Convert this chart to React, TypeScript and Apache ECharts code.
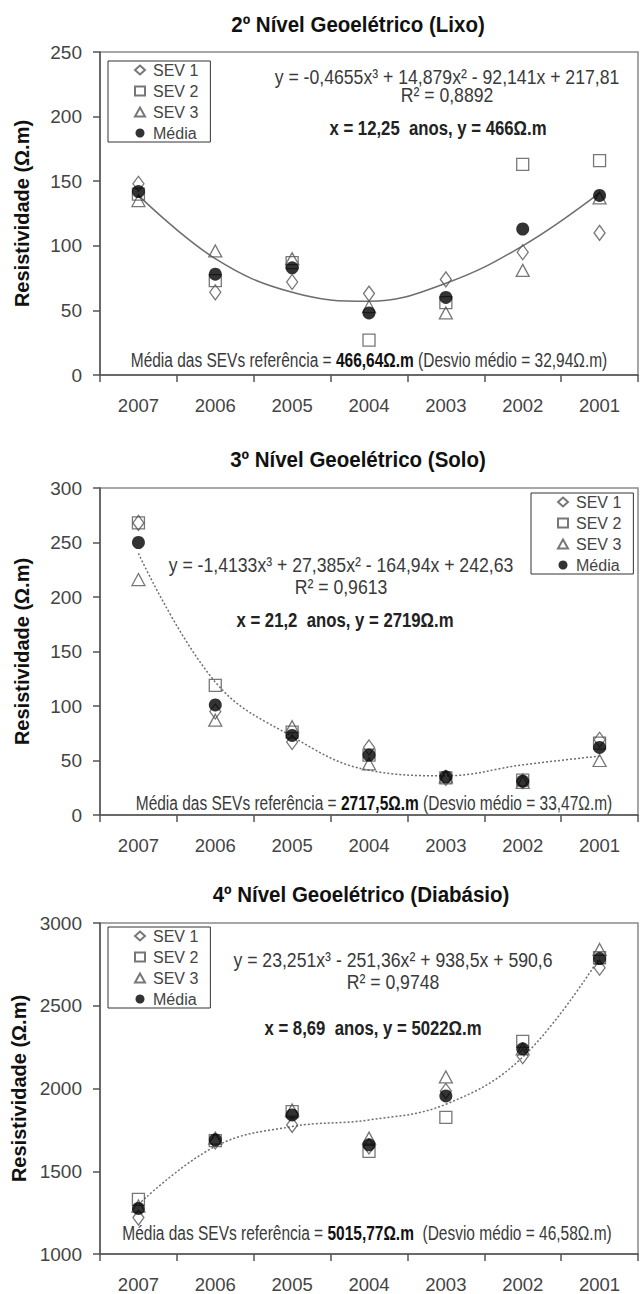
import React, { useEffect, useRef } from 'react';
import * as echarts from 'echarts';

const years = ['2007', '2006', '2005', '2004', '2003', '2002', '2001'];

const lixoSev1 = [148, 64, 72, 63, 74, 95, 110];
const lixoSev2 = [140, 73, 87, 27, 56, 163, 166];
const lixoSev3 = [135, 96, 90, 53, 48, 81, 137];
const lixoMedia = [142, 78, 83, 48, 60, 113, 139];
const lixoTrend = [139, 90, 64, 57, 71, 100, 141];

const soloSev1 = [268, 95, 67, 62, 34, 31, 69];
const soloSev2 = [268, 119, 76, 55, 34, 32, 66];
const soloSev3 = [216, 87, 81, 47, 35, 30, 50];
const soloMedia = [250, 101, 73, 55, 35, 31, 62];
const soloTrend = [240, 122, 72, 41, 36, 46, 54];

const diabSev1 = [1220, 1680, 1780, 1650, 1985, 2195, 2730];
const diabSev2 = [1330, 1685, 1860, 1620, 1826, 2285, 2790];
const diabSev3 = [1290, 1700, 1870, 1700, 2070, 2240, 2840];
const diabMedia = [1275, 1690, 1840, 1660, 1955, 2240, 2785];
const diabTrend = [1300, 1650, 1770, 1810, 1905, 2190, 2790];

const titles = ['2º Nível Geoelétrico (Lixo)', '3º Nível Geoelétrico (Solo)', '4º Nível Geoelétrico (Diabásio)'];
const equations = [
  'y = -0,4655x³ + 14,879x² - 92,141x + 217,81',
  'y = -1,4133x³ + 27,385x² - 164,94x + 242,63',
  'y = 23,251x³ - 251,36x² + 938,5x + 590,6',
];
const r2Texts = ['R² = 0,8892', 'R² = 0,9613', 'R² = 0,9748'];
const resultTexts = ['x = 12,25  anos, y = 466Ω.m', 'x = 21,2  anos, y = 2719Ω.m', 'x = 8,69  anos, y = 5022Ω.m'];
const refValues = ['466,64Ω.m', '2717,5Ω.m', '5015,77Ω.m'];
const desvios = [' (Desvio médio = 32,94Ω.m)', ' (Desvio médio = 33,47Ω.m)', '  (Desvio médio = 46,58Ω.m)'];
const legendNames = ['SEV 1', 'SEV 2', 'SEV 3', 'Média'];

const SANS = '"Liberation Sans", Arial, sans-serif';
const GRAY = '#555';
const TXT = '#3a3a3a';

const grids = [
  { left: 100, top: 52, width: 538, height: 323 },
  { left: 100, top: 488, width: 538, height: 327 },
  { left: 100, top: 923, width: 538, height: 332 },
];
const yRanges = [
  { min: 0, max: 250, interval: 50 },
  { min: 0, max: 300, interval: 50 },
  { min: 1000, max: 3000, interval: 500 },
];

function buildSeries(gi: number, s1: number[], s2: number[], s3: number[], m: number[], trend: number[], dotted: boolean) {
  const base = { type: 'scatter', xAxisIndex: gi, yAxisIndex: gi };
  const hollow = { color: 'rgba(0,0,0,0)', borderColor: GRAY, borderWidth: 1.3 };
  return [
    {
      type: 'line', xAxisIndex: gi, yAxisIndex: gi, data: trend, smooth: 0.4, smoothConstraint: false,
      symbol: 'none', z: 1,
      lineStyle: { color: '#6e6e6e', width: 1.5, type: dotted ? [2, 2] : 'solid' }, silent: true,
    },
    { ...base, name: legendNames[0], data: s1, symbol: 'diamond', symbolSize: [11, 15], itemStyle: hollow, z: 2 },
    { ...base, name: legendNames[1], data: s2, symbol: 'rect', symbolSize: 12, itemStyle: hollow, z: 2 },
    { ...base, name: legendNames[2], data: s3, symbol: 'triangle', symbolSize: [13, 12], itemStyle: hollow, z: 2 },
    { ...base, name: legendNames[3], data: m, symbol: 'circle', symbolSize: 13, itemStyle: { color: '#000' }, z: 3 },
  ];
}

const textPos = [
  { title: [358, 25], eq: [447, 77], r2: [447, 95], res: [438, 128], media: [369, 360] },
  { title: [358, 460], eq: [341, 565], r2: [341, 587], res: [345, 620], media: [374, 803] },
  { title: [361, 895], eq: [393, 960], r2: [393, 982], res: [373, 1028], media: [367, 1233] },
];
const legendPos = [
  { left: 108, top: 61 },
  { left: 531, top: 493 },
  { left: 108, top: 927 },
];

function txt(text: string, x: number, y: number, font: string, sx: number, sy: number, extra: any = {}) {
  return {
    type: 'text', x, y, scaleX: sx, scaleY: sy, silent: true,
    style: { text, font, fill: TXT, textAlign: 'center', textVerticalAlign: 'middle', ...extra },
  };
}

export default function App() {
  const ref = useRef<HTMLDivElement>(null);
  useEffect(() => {
    const chart = echarts.init(ref.current!, undefined, { renderer: 'svg' });
    const graphics: any[] = [];
    textPos.forEach((p, i) => {
      graphics.push(txt(titles[i], p.title[0], p.title[1], `bold 20.5px ${SANS}`, 1.0, 1.08, { fill: '#111' }));
      graphics.push(txt(equations[i], p.eq[0], p.eq[1], `18px ${SANS}`, 0.98, 1.12));
      graphics.push(txt(r2Texts[i], p.r2[0], p.r2[1], `18px ${SANS}`, 0.98, 1.12));
      graphics.push(txt(resultTexts[i], p.res[0], p.res[1], `bold 18px ${SANS}`, 0.93, 1.12, { fill: '#222' }));
      graphics.push({
        type: 'text', x: p.media[0], y: p.media[1], scaleX: 0.86, scaleY: 1.1, silent: true,
        style: {
          text: `{n|Média das SEVs referência = }{b|${refValues[i]}}{n|${desvios[i]}}`,
          textAlign: 'center', textVerticalAlign: 'middle',
          rich: {
            n: { font: `18px ${SANS}`, fill: TXT },
            b: { font: `bold 18px ${SANS}`, fill: '#111' },
          },
        },
      });
    });
    const option: any = {
      animation: false,
      backgroundColor: '#fff',
      grid: grids.map((g) => ({ ...g, show: true, borderColor: '#8a8a8a', borderWidth: 1.5, backgroundColor: 'transparent' })),
      xAxis: grids.map((_, i) => ({
        type: 'category', gridIndex: i, data: years, boundaryGap: true,
        axisLine: { show: true, lineStyle: { color: GRAY, width: 1.5 } },
        axisTick: { show: true, length: 7, interval: 0, lineStyle: { color: GRAY, width: 1.5 } },
        axisLabel: { interval: 0, margin: 21, fontSize: 18.5, fontFamily: SANS, color: '#444' },
        splitLine: { show: false },
      })),
      yAxis: grids.map((_, i) => ({
        type: 'value', gridIndex: i, ...yRanges[i],
        axisLine: { show: true, lineStyle: { color: GRAY, width: 1.5 } },
        axisTick: { show: true, length: 7, lineStyle: { color: GRAY, width: 1.5 } },
        axisLabel: { margin: 18, fontSize: 19, fontFamily: SANS, color: '#444', formatter: (v: number) => String(v) },
        splitLine: { show: false },
        name: 'Resistividade (Ω.m)', nameLocation: 'middle', nameGap: 68,
        nameTextStyle: { fontSize: 20, fontWeight: 'bold', fontFamily: SANS, color: '#111' },
      })),
      legend: legendPos.map((lp) => ({
        ...lp, orient: 'vertical', data: legendNames,
        backgroundColor: '#fff', borderColor: '#333', borderWidth: 1,
        padding: [1, 12, 1, 26], itemGap: 5, itemWidth: 10, itemHeight: 9,
        textStyle: { fontSize: 16, fontFamily: SANS, color: '#444', padding: [0, 0, 0, 3] },
        selectedMode: false,
      })),
      series: [
        ...buildSeries(0, lixoSev1, lixoSev2, lixoSev3, lixoMedia, lixoTrend, false),
        ...buildSeries(1, soloSev1, soloSev2, soloSev3, soloMedia, soloTrend, true),
        ...buildSeries(2, diabSev1, diabSev2, diabSev3, diabMedia, diabTrend, true),
      ],
      graphic: graphics,
    };
    chart.setOption(option);
    return () => chart.dispose();
  }, []);
  return <div ref={ref} style={{ position: 'absolute', left: 0, top: 0, width: 641, height: 1294, background: '#fff' }} />;
}
